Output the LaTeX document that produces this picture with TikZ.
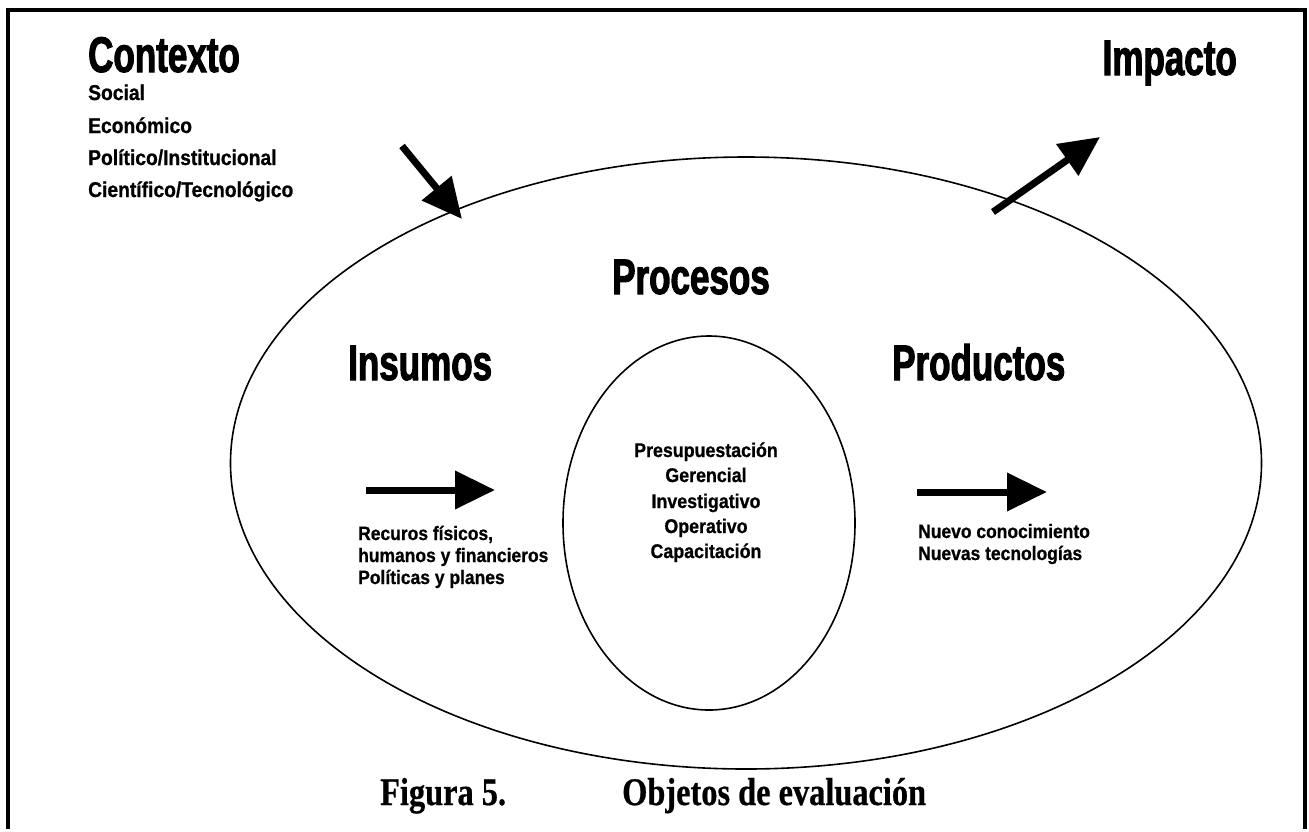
\documentclass[tikz,border=0pt]{standalone}
\usepackage{fontspec}
\usetikzlibrary{arrows.meta,shapes.geometric}
\newfontfamily\headfont{Liberation Sans}[UprightFont={* Bold},FakeStretch=0.7,FakeBold=2]
\newfontfamily\bodyfont{Liberation Sans}[UprightFont={* Bold},FakeStretch=0.9,FakeBold=0.8]
\newfontfamily\capfont{Liberation Serif}[UprightFont={* Bold},FakeStretch=0.83,FakeBold=0.6]
\begin{document}
\begin{tikzpicture}[x=1pt,y=-1pt,
  heading/.style={font=\headfont\fontsize{50}{50}\selectfont, inner sep=0pt},
  listtext/.style={font=\bodyfont\fontsize{21.4}{24}\selectfont, inner sep=0pt, anchor=base west},
  innertext/.style={font=\bodyfont\fontsize{19.4}{22}\selectfont, inner sep=0pt, anchor=base west},
  centertext/.style={font=\bodyfont\fontsize{19.8}{22}\selectfont, inner sep=0pt, anchor=base},
  caption/.style={font=\capfont\fontsize{39}{39}\selectfont, inner sep=0pt, anchor=base west},
  bigarrow/.style={line width=7pt, -{Triangle[length=40pt,width=37pt]}},
  ring/.style={draw, ellipse, line width=1.6pt, inner sep=0pt}]
\useasboundingbox (0,0) rectangle (1309,831);
\fill[white] (0,0) rectangle (1309,831);
% frame
\draw[line width=4pt] (8,829) -- (8,10) -- (1305,10) -- (1305,829);

% the two rings
\node[ring, minimum width=1031pt, minimum height=612pt] (outer) at (746,463) {};
\node[ring, minimum width=292pt, minimum height=374pt] (inner) at (709,523) {};

% headings
\node[heading, anchor=base west] (contexto) at (88,72) {Contexto};
\node[heading, anchor=base east] (impacto) at (1237,75) {Impacto};
\node[heading, anchor=base] (procesos) at (691,294) {Procesos};
\node[heading, anchor=base west] (insumos) at (348,380) {Insumos};
\node[heading, anchor=base west] (productos) at (892,380) {Productos};

% context factors
\node[listtext] (ctx1) at (88,100) {Social};
\node[listtext] (ctx2) at (88,133) {Económico};
\node[listtext] (ctx3) at (88,165) {Político/Institucional};
\node[listtext] (ctx4) at (88,197) {Científico/Tecnológico};

% process list
\node[centertext] (pr1) at (706,457) {Presupuestación};
\node[centertext] (pr2) at (706,482) {Gerencial};
\node[centertext] (pr3) at (706,508) {Investigativo};
\node[centertext] (pr4) at (706,533) {Operativo};
\node[centertext] (pr5) at (706,558) {Capacitación};

% inputs and outputs
\node[innertext] (in1) at (358,540) {Recuros físicos,};
\node[innertext] (in2) at (358,562) {humanos y financieros};
\node[innertext] (in3) at (358,584) {Políticas y planes};
\node[innertext] (out1) at (918,538) {Nuevo conocimiento};
\node[innertext] (out2) at (918,560) {Nuevas tecnologías};

% arrows
\coordinate (ctxA) at (402,146);
\coordinate (ctxB) at (462,219);
\coordinate (impA) at (993,212);
\coordinate (impB) at (1100,137);
\coordinate (insA) at (366,490);
\coordinate (insB) at (495,490);
\coordinate (proA) at (917,492);
\coordinate (proB) at (1047,492);
\draw[bigarrow] (ctxA) -- (ctxB);
\draw[bigarrow] (impA) -- (impB);
\draw[bigarrow] (insA) -- (insB);
\draw[bigarrow] (proA) -- (proB);

% caption
\node[caption] (fig) at (380,805) {Figura 5.};
\node[caption] (titulo) at (622,805) {Objetos de evaluación};
\end{tikzpicture}
\end{document}
